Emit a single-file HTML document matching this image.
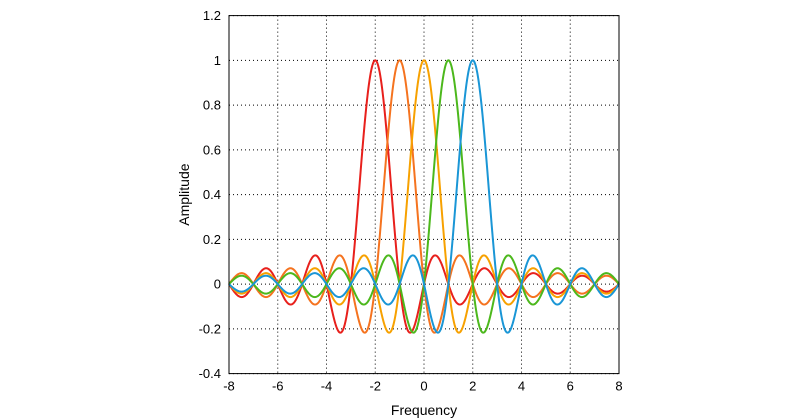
<!DOCTYPE html>
<html><head><meta charset="utf-8"><style>
body{margin:0;background:#fff;}
svg{display:block;font-family:"Liberation Sans",sans-serif;}
</style></head><body>
<svg id="chart" width="800" height="420"></svg>
<script>
const centers=[-2,-1,0,1,2];
const seriesNames=['shift-minus-2','shift-minus-1','shift-0','shift-plus-1','shift-plus-2'];
const colors=['#e8201c','#f5731f','#f7a100','#4cb81c','#1a96d6'];
const xTicks=[-8,-6,-4,-2,0,2,4,6,8];
const yTicks=[-0.4,-0.2,0,0.2,0.4,0.6,0.8,1,1.2];
const yTickLabels=['-0.4','-0.2','0','0.2','0.4','0.6','0.8','1','1.2'];

const NS='http://www.w3.org/2000/svg';
const svg=document.getElementById('chart');
const L=229,R=619,T=15.6,B=373.6;
const xs=v=>L+(v+8)/16*(R-L);
const ys=v=>B-(v+0.4)/1.6*(B-T);
function mk(tag,attrs,parent){const e=document.createElementNS(NS,tag);for(const k in attrs)e.setAttribute(k,attrs[k]);(parent||svg).appendChild(e);return e;}

const grid=mk('g',{});


xTicks.forEach(t=>{
  const l=mk('line',{x1:xs(t),x2:xs(t),y1:T,y2:B,stroke:'#000','stroke-width':1,'stroke-dasharray':'1,3'},grid);
  
  
  const tx=mk('text',{x:xs(t),y:B+17,'text-anchor':'middle','font-size':13,fill:'#000'});
  tx.textContent=t;
  
  
});
yTicks.forEach((t,i)=>{
  const l=mk('line',{x1:L,x2:R,y1:ys(t),y2:ys(t),stroke:'#000','stroke-width':1,'stroke-dasharray':'1,3'},grid);
  
  
  const tx=mk('text',{x:L-8,y:ys(t)+4.5,'text-anchor':'end','font-size':13,fill:'#000'});
  tx.textContent=yTickLabels[i];
  
  
});

const lines=mk('g',{});


centers.forEach((c,i)=>{
  let d='';
  for(let k=0;k<=800;k++){
    const x=-8+16*k/800;
    const u=x-c;
    const y=Math.abs(u)<1e-9?1:Math.sin(Math.PI*u)/(Math.PI*u);
    d+=(k?'L':'M')+xs(x).toFixed(2)+','+ys(y).toFixed(2);
  }
  const p=mk('path',{d:d,fill:'none',stroke:colors[i],'stroke-width':2},lines);
  
  
});

const box=mk('rect',{x:L,y:T,width:R-L,height:B-T,fill:'none',stroke:'#000','stroke-width':1});



const xt=mk('text',{x:(L+R)/2,y:415,'text-anchor':'middle','font-size':14,fill:'#000'});
xt.textContent='Frequency';


const yt=mk('text',{x:0,y:0,'text-anchor':'middle','font-size':14,fill:'#000',transform:'translate(189,'+((T+B)/2)+') rotate(-90)'});
yt.textContent='Amplitude';


</script>
</body></html>
